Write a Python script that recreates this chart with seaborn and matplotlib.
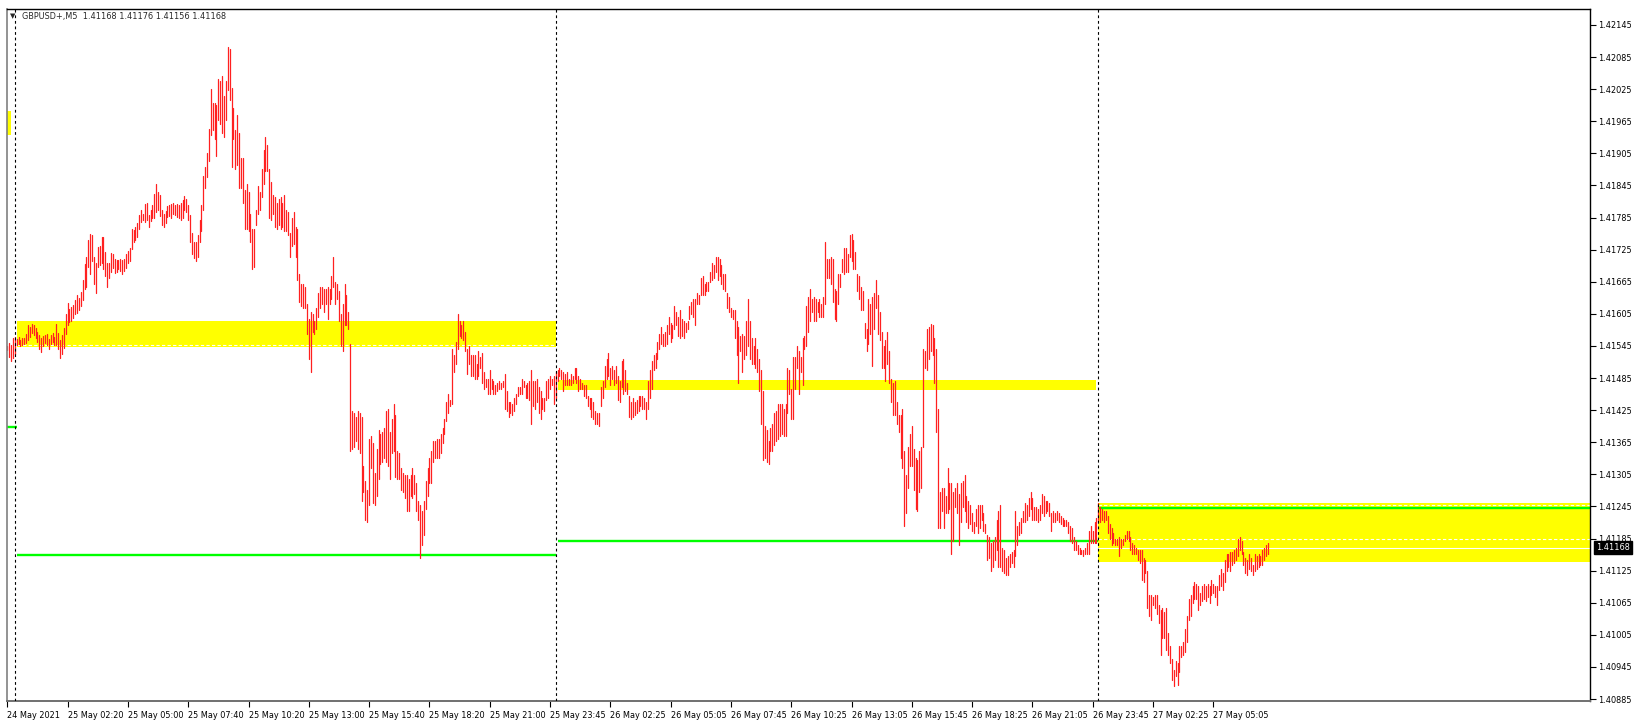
import numpy as np
import pandas as pd
import seaborn as sns
import matplotlib.pyplot as plt
import matplotlib.transforms as mtransforms

sns.set_style("white")
plt.rcParams['font.family'] = ['DejaVu Sans']

# M5 bars (low, high) in points above 1.40000, first bar = 24 May 23:40
bar_ranges = [
    (1538,1544),(1524,1550),(1516,1546),(1522,1560),(1530,1562),(1546,1558),(1548,1562),(1544,1556),(1546,1560),(1548,1560),
    (1550,1568),(1556,1584),(1562,1580),(1570,1586),(1566,1584),(1560,1578),(1552,1572),(1540,1566),(1534,1560),(1544,1564),
    (1550,1566),(1546,1568),(1540,1558),(1548,1566),(1552,1570),(1546,1562),(1546,1586),(1540,1570),(1522,1556),(1530,1566),
    (1542,1578),(1568,1604),(1584,1626),(1590,1614),(1592,1618),(1598,1622),(1604,1630),(1606,1640),(1612,1634),(1620,1646),
    (1630,1668),(1652,1698),(1656,1712),(1692,1744),(1680,1754),(1704,1752),(1660,1712),(1644,1700),(1692,1730),(1696,1732),
    (1700,1748),(1688,1748),(1676,1720),(1656,1700),(1672,1700),(1684,1718),(1690,1716),(1682,1708),(1684,1706),(1688,1706),
    (1686,1708),(1680,1706),(1686,1708),(1690,1716),(1700,1722),(1704,1728),(1726,1764),(1740,1762),(1744,1768),(1748,1774),
    (1764,1790),(1776,1800),(1780,1792),(1776,1810),(1780,1812),(1768,1790),(1778,1800),(1784,1808),(1784,1830),(1796,1848),
    (1800,1832),(1788,1828),(1772,1800),(1768,1792),(1774,1798),(1786,1806),(1788,1808),(1784,1810),(1792,1812),(1790,1808),
    (1786,1810),(1784,1808),(1780,1812),(1784,1818),(1800,1826),(1796,1820),(1780,1808),(1740,1790),(1716,1756),(1710,1740),
    (1704,1740),(1712,1752),(1740,1780),(1760,1808),(1800,1862),(1840,1880),(1860,1906),(1890,1950),
    (1940,2026),(1948,2000),(1932,2000),(1900,1996),(1968,2044),(1960,2040),(1944,2050),(1936,2012),(1968,2040),(2024,2104),
    (2004,2100),(1880,2028),(1932,1990),
    (1876,1948),(1884,1976),(1840,1944),(1840,1896),(1812,1896),(1764,1836),(1764,1848),(1760,1832),(1740,1792),(1688,1764),
    (1692,1764),(1772,1800),(1792,1844),
    (1800,1832),(1824,1876),(1848,1912),(1872,1936),(1872,1920),(1784,1876),(1780,1852),
    (1792,1828),(1768,1824),(1764,1812),(1772,1820),(1764,1824),(1768,1812),(1760,1828),(1760,1800),(1752,1796),
    (1712,1756),(1732,1784),(1736,1796),(1712,1768),(1668,1764),(1628,1680),
    (1620,1660),(1616,1660),(1616,1656),(1568,1624),(1520,1596),(1496,1608),(1572,1604),(1568,1592),(1576,1616),
    (1600,1644),(1616,1656),(1624,1656),(1608,1652),(1624,1652),(1596,1656),(1624,1652),(1632,1676),(1656,1712),
    (1624,1664),(1632,1660),(1592,1648),(1544,1604),(1536,1624),(1584,1660),(1584,1640),(1576,1608),
    (1348,1548),(1352,1424),(1356,1420),(1368,1412),(1352,1424),(1344,1420),(1256,1412),(1272,1320),
    (1220,1292),(1216,1276),(1248,1372),(1316,1376),(1252,1364),(1248,1308),(1264,1352),(1296,1388),
    (1324,1380),(1328,1384),(1336,1392),(1328,1424),(1320,1428),(1296,1384),(1344,1408),(1348,1436),(1300,1416),(1296,1348),
    (1296,1344),(1276,1316),
    (1272,1308),(1260,1304),(1236,1304),(1236,1296),(1264,1304),(1260,1316),(1268,1304),(1236,1288),(1220,1256),(1148,1248),
    (1172,1236),(1192,1256),(1240,1292),(1264,1316),
    (1288,1336),(1288,1348),(1328,1368),(1336,1368),(1336,1372),(1336,1372),(1344,1380),(1364,1392),(1380,1408),(1404,1440),
    (1420,1456),(1432,1444),(1436,1540),(1496,1528),(1512,1552),(1540,1604),(1564,1592),(1560,1584),(1556,1592),(1536,1572),
    (1492,1540),(1512,1544),(1488,1528),(1488,1528),(1484,1528),(1484,1512),(1488,1536),(1504,1524),(1476,1532),(1464,1496),
    (1468,1484),(1456,1484),(1456,1500),(1464,1484),(1456,1480),(1456,1472),(1460,1476),(1464,1480),(1464,1476),(1468,1480),
    (1428,1492),(1424,1460),(1412,1440),(1420,1440),(1416,1436),(1424,1448),(1436,1456),(1452,1468),(1456,1468),(1456,1484),
    (1468,1480),(1448,1472),(1448,1476),(1444,1480),(1400,1500),(1432,1480),(1428,1480),(1440,1484),(1420,1468),(1408,1460),
    (1428,1448),(1424,1448),(1444,1480),(1448,1484),(1464,1488),(1472,1484),(1436,1488),(1448,1496),
    (1480,1500),(1488,1504),(1484,1500),(1460,1496),(1472,1492),(1472,1496),(1472,1484),(1472,1492),(1476,1488),(1484,1504),
    (1476,1504),(1460,1488),(1464,1484),(1464,1476),(1452,1472),(1448,1472),(1432,1452),(1428,1448),(1412,1448),(1408,1440),
    (1400,1424),(1400,1420),(1396,1420),(1432,1468),(1448,1480),(1468,1508),(1484,1520),(1488,1532),(1472,1504),(1484,1508),
    (1472,1500),(1476,1508),(1444,1488),(1440,1480),(1468,1516),(1456,1520),(1460,1500),(1456,1476),(1412,1452),(1408,1440),
    (1412,1448),(1416,1440),(1420,1444),(1424,1452),(1432,1452),(1428,1452),(1428,1448),(1408,1440),(1428,1480),(1448,1500),
    (1464,1516),(1500,1528),(1504,1532),(1520,1552),(1540,1568),(1548,1580),(1544,1568),(1544,1572),(1548,1584),(1568,1600),
    (1552,1588),(1560,1584),(1576,1620),(1584,1608),(1564,1600),(1560,1612),(1564,1596),(1560,1592),(1572,1588),(1576,1592),
    (1596,1620),(1604,1628),(1600,1632),(1584,1632),(1624,1644),(1624,1640),(1640,1672),(1640,1676),(1640,1660),(1648,1664),
    (1648,1664),(1664,1684),(1668,1700),(1672,1696),(1684,1712),(1668,1712),(1676,1708),(1660,1696),(1652,1680),(1648,1680),
    (1616,1644),(1608,1636),(1600,1616),(1596,1612),(1560,1612),(1528,1592),(1476,1580),(1536,1564),(1496,1568),(1520,1564),
    (1528,1592),(1544,1632),(1520,1592),(1512,1560),(1512,1544),(1504,1560),(1496,1540),(1460,1520),
    (1400,1500),(1332,1460),(1336,1396),(1328,1388),(1324,1368),(1348,1392),(1348,1400),(1360,1420),(1368,1424),(1372,1436),
    (1376,1436),(1380,1436),(1376,1428),(1376,1436),(1420,1504),(1456,1500),(1408,1464),(1408,1524),(1464,1524),(1504,1544),
    (1456,1536),(1496,1524),(1472,1560),(1540,1564),(1544,1620),(1572,1636),(1592,1652),(1608,1632),(1592,1636),(1592,1632),
    (1608,1628),(1600,1632),(1600,1624),(1600,1636),(1624,1740),(1672,1708),(1672,1708),(1660,1712),(1628,1708),(1596,1652),
    (1592,1648),(1624,1680),(1656,1680),(1684,1708),(1680,1728),(1684,1728),(1684,1716),(1712,1752),(1704,1754),(1688,1744),
    (1688,1720),(1648,1680),(1632,1676),(1612,1656),(1612,1648),(1560,1588),(1536,1576),(1548,1632),(1568,1624),(1508,1636),
    (1576,1644),(1616,1668),(1568,1640),(1556,1608),(1504,1572),(1504,1544),(1480,1556),(1512,1572),(1476,1536),(1440,1484),
    (1416,1476),(1416,1480),(1400,1440),(1384,1416),(1336,1416),(1316,1428),(1208,1348),(1232,1304),(1280,1356),(1320,1380),
    (1320,1396),(1276,1352),(1240,1336),(1236,1332),(1272,1348),(1280,1356),(1356,1540),(1504,1536),(1500,1576),(1520,1580),
    (1536,1586),(1528,1584),(1476,1560),(1384,1540),(1204,1428),(1204,1272),(1236,1280),(1204,1280),(1232,1264),(1232,1316),
    (1240,1288),(1156,1288),(1180,1272),(1244,1280),(1232,1288),(1172,1268),(1216,1288),(1244,1292),(1236,1304),(1216,1264),
    (1204,1256),(1212,1248),(1200,1232),(1196,1216),(1208,1240),(1196,1248),(1204,1248),(1220,1248),(1200,1232),(1196,1212),
    (1144,1192),(1148,1188),(1124,1176),(1132,1180),(1144,1188),(1164,1220),(1132,1236),(1132,1248),(1124,1168),(1120,1164),
    (1116,1148),(1116,1152),(1132,1156),(1140,1160),(1132,1164),(1152,1236),(1172,1208),(1192,1216),(1196,1224),(1216,1236),
    (1216,1252),(1220,1248),(1228,1260),(1240,1272),(1220,1260),(1220,1244),(1220,1244),(1216,1240),(1220,1248),(1232,1268),
    (1228,1264),(1232,1256),(1236,1256),(1228,1252),(1200,1232),(1216,1236),(1216,1232),(1220,1236),(1216,1232),(1212,1228),
    (1208,1224),(1208,1220),(1208,1220),(1196,1216),(1180,1208),(1176,1204),(1164,1188),(1164,1180),(1156,1172),(1156,1168),
    (1156,1164),(1152,1164),(1156,1168),(1156,1176),(1156,1200),(1176,1208),(1176,1200),(1176,1216),(1176,1224),(1216,1252),
    (1216,1244),(1220,1240),(1216,1236),(1220,1236),(1196,1228),(1184,1212),(1172,1204),(1176,1196),(1172,1184),(1172,1184),
    (1152,1188),(1168,1184),(1172,1184),(1180,1192),(1184,1200),(1180,1200),(1164,1188),(1156,1176),(1156,1172),(1156,1168),
    (1144,1164),(1140,1164),(1108,1164),(1104,1148),(1120,1144),(1056,1124),(1040,1080),(1032,1080),(1060,1076),(1056,1080),
    (1044,1080),(1028,1060),(968,1052),(1000,1056),(1000,1048),(976,1056),(968,1008),(952,984),(920,960),(910,940),
    (928,956),(912,952),(936,984),(964,984),(968,992),(972,1016),(992,1040),(1032,1072),(1040,1080),(1064,1096),
    (1072,1104),(1072,1100),(1052,1096),(1060,1084),(1068,1096),(1072,1100),(1068,1096),(1076,1100),(1064,1096),(1080,1108),
    (1084,1100),(1076,1096),(1060,1096),(1088,1116),(1096,1128),(1088,1120),(1104,1144),(1124,1156),(1132,1156),(1124,1160),
    (1136,1160),(1140,1164),(1144,1168),(1152,1184),(1164,1188),(1156,1180),(1136,1160),(1120,1148),(1116,1144),(1128,1156),
    (1124,1148),(1116,1136),(1124,1156),(1128,1152),(1132,1156),(1136,1152),(1136,1164),(1144,1168),(1152,1172),(1156,1176),
]

time_ticks = [0, 32, 64, 96, 128, 160, 192, 224, 256, 288, 320,
              352, 384, 416, 448, 480, 512, 544, 576, 608, 640]
time_labels = ["24 May 2021", "25 May 02:20", "25 May 05:00", "25 May 07:40", "25 May 10:20",
               "25 May 13:00", "25 May 15:40", "25 May 18:20", "25 May 21:00", "25 May 23:45",
               "26 May 02:25", "26 May 05:05", "26 May 07:45", "26 May 10:25", "26 May 13:05",
               "26 May 15:45", "26 May 18:25", "26 May 21:05", "26 May 23:45", "27 May 02:25",
               "27 May 05:05"]
price_ticks = [1.42145, 1.42085, 1.42025, 1.41965, 1.41905, 1.41845, 1.41785, 1.41725,
               1.41665, 1.41605, 1.41545, 1.41485, 1.41425, 1.41365, 1.41305, 1.41245,
               1.41185, 1.41125, 1.41065, 1.41005, 1.40945, 1.40885]

day_separators = [4, 291, 579]
# zones: (bar from, bar to, price low, price high)
yellow_zones = [(5, 291, 1.41543, 1.41591), (292, 578, 1.41462, 1.41481),
                (579, 845, 1.41141, 1.41251), (-2, 2, 1.41939, 1.41984)]
green_levels = [(5, 291, 1.41155), (292, 579, 1.41181), (579, 845, 1.41242), (-2, 5, 1.41393)]
white_dashed = [(5, 291, 1.41546), (579, 845, 1.41247), (579, 845, 1.41185)]
bid = 1.41168
header = "GBPUSD+,M5  1.41168 1.41176 1.41156 1.41168"

# long table: two rows per bar (low, high)
lows = np.array([r[0] for r in bar_ranges]) / 1e5 + 1.4
highs = np.array([r[1] for r in bar_ranges]) / 1e5 + 1.4
n = len(bar_ranges)
df = pd.DataFrame({
    "bar": np.repeat(np.arange(n), 2),
    "price": np.column_stack([lows, highs]).ravel(),
})

fig = plt.figure(figsize=(16.41, 7.26), dpi=100)
ax = fig.add_axes([7 / 1641, 1 - 701 / 726, 1583 / 1641, 692 / 726])

for x0, x1, lo, hi in yellow_zones:
    ax.fill_between([x0, x1], lo, hi, color="#ffff00", lw=0, zorder=0)
for x0, x1, y in green_levels:
    ax.hlines(y, x0, x1, color="#00ff00", lw=1.7, zorder=1)
for x0, x1, y in white_dashed:
    ax.hlines(y, x0, x1, color="white", lw=0.8, linestyles=(0, (3, 2)), zorder=1.5)
ax.axhline(bid, color="white", lw=0.8, zorder=1.5)

sns.lineplot(data=df, x="bar", y="price", units="bar", estimator=None, sort=False,
             color="#ff2020", lw=0.9, ax=ax, legend=False, zorder=2)

for s in day_separators:
    ax.axvline(s, color="black", lw=0.8, ls=(0, (2.5, 2.5)), zorder=3)

ax.set_xlim(-0.16, 839.9)
ax.set_ylim(1.408813, 1.421749)
ax.set_xlabel("")
ax.set_ylabel("")

ax.yaxis.tick_right()
ax.set_yticks(price_ticks)
ax.set_yticklabels([f"{p:.5f}" for p in price_ticks])
ax.set_xticks(time_ticks)
ax.set_xticklabels(time_labels, ha="left")
ax.tick_params(axis="both", direction="out", length=4, width=0.8, color="black",
               labelsize=5.9, labelcolor="black", pad=2)
ax.tick_params(axis="x", bottom=True, pad=3)
ax.tick_params(axis="y", right=True, left=False)

for side in ["top", "right"]:
    ax.spines[side].set_color("black")
    ax.spines[side].set_linewidth(1.0)
ax.spines["bottom"].set_color("#707070")
ax.spines["bottom"].set_linewidth(1.4)
ax.spines["left"].set_color("#808080")
ax.spines["left"].set_linewidth(1.2)

trans = mtransforms.blended_transform_factory(ax.transAxes, ax.transData)
ax.text(1.0038, bid, f"{bid:.5f}", transform=trans, ha="left", va="center",
        color="white", fontsize=5.9, zorder=5, clip_on=False,
        bbox=dict(boxstyle="square,pad=0.25", fc="black", ec="black"))

fig.text(22 / 1641, 1 - 16 / 726, header, fontsize=5.9, va="center", ha="left")
fig.text(10 / 1641, 1 - 16 / 726, "\u25bc", fontsize=5, va="center", ha="left")

plt.savefig("out.png", dpi=100)
